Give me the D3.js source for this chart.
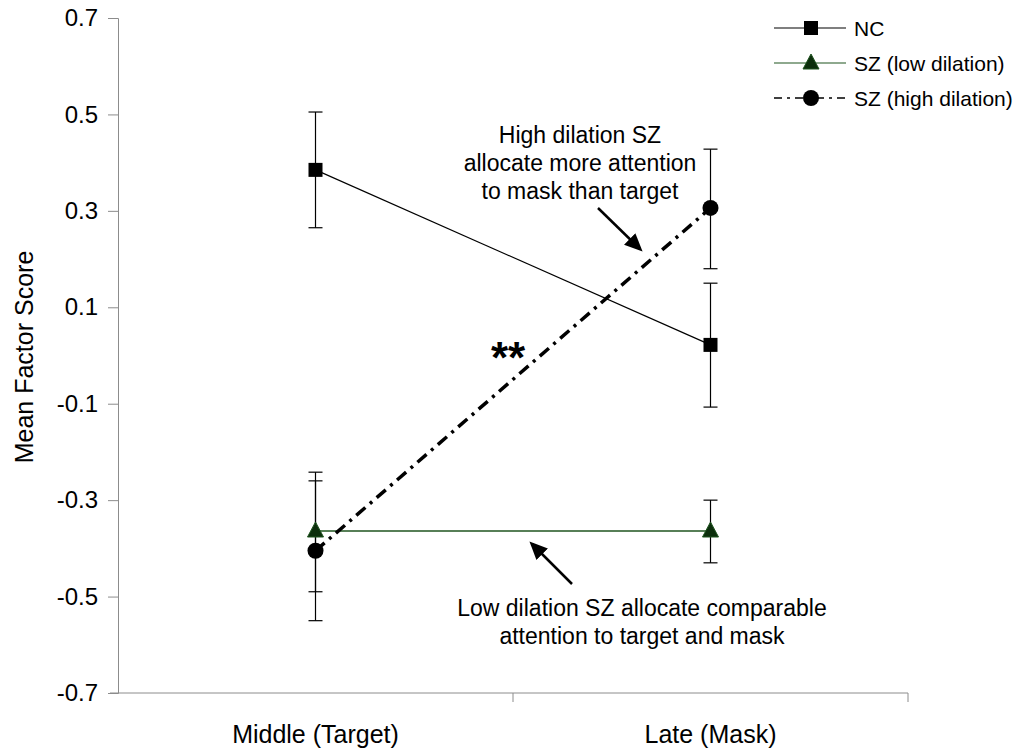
<!DOCTYPE html>
<html>
<head>
<meta charset="utf-8">
<script src="https://cdn.jsdelivr.net/npm/d3@7"></script>
<style>
  body { margin: 0; background: #fff; }
  text { font-family: "Liberation Sans", Arial, sans-serif; }
</style>
</head>
<body>
<svg id="chart" width="1023" height="753"></svg>
<script>
// data
var phases = ["Middle (Target)", "Late (Mask)"];
var yTicks = [0.7, 0.5, 0.3, 0.1, -0.1, -0.3, -0.5, -0.7];

var ncMean = [0.385, 0.022];
var ncHi   = [0.505, 0.150];
var ncLo   = [0.265, -0.107];

var lowMean = [-0.364, -0.364];
var lowHi   = [-0.242, -0.300];
var lowLo   = [-0.490, -0.430];

var highMean = [-0.405, 0.306];
var highHi   = [-0.260, 0.428];
var highLo   = [-0.550, 0.180];

var svg = d3.select("#chart");

// scales
var y = d3.scaleLinear().domain([-0.7, 0.7]).range([693, 18]);
var x = d3.scaleBand().domain(phases).range([118, 908]);
function cx(p){ return x(p) + x.bandwidth() / 2; }

var axisColor = "#8c8c8c";

// y axis (plain hyphen for minus, like the original)
var yAxis = d3.axisLeft(y).tickValues(yTicks).tickSize(10).tickPadding(10)
    .tickFormat(function(d){ return d3.format(".1f")(d).replace("\u2212", "-"); });
var gy = svg.append("g").attr("transform", "translate(118,0)").call(yAxis);
gy.select(".domain").attr("stroke", axisColor);
gy.selectAll(".tick line").attr("stroke", axisColor);
gy.selectAll(".tick text").attr("font-size", 24).attr("fill", "#000")
    .attr("font-family", "Liberation Sans, Arial, sans-serif");

// x axis
var xAxis = d3.axisBottom(x).tickSize(0).tickFormat("");
var gx = svg.append("g").attr("transform", "translate(0,693)").call(xAxis);
gx.select(".domain").remove();
gx.append("line").attr("x1", 110).attr("x2", 908).attr("y1", 0).attr("y2", 0)
    .attr("stroke", axisColor);
// boundary ticks between categories
gx.selectAll(".bt").data(phases).enter().append("line")
    .attr("x1", function(d){ return x(d) + x.bandwidth(); })
    .attr("x2", function(d){ return x(d) + x.bandwidth(); })
    .attr("y1", 0).attr("y2", 9).attr("stroke", axisColor);
svg.selectAll(".xlab").data(phases).enter().append("text")
    .attr("x", function(d){ return cx(d); })
    .attr("y", 743).attr("text-anchor", "middle").attr("font-size", 25)
    .text(function(d){ return d; });

// y title
svg.append("text").attr("transform", "translate(33,357) rotate(-90)")
    .attr("text-anchor", "middle").attr("font-size", 25).text("Mean Factor Score");

// series
var series = [
  {name: "NC", mean: ncMean, hi: ncHi, lo: ncLo, color: "#000", width: 1.2, dash: null, shape: "square"},
  {name: "SZ (low dilation)", mean: lowMean, hi: lowHi, lo: lowLo, color: "#1f541f", width: 1.5, dash: null, shape: "triangle"},
  {name: "SZ (high dilation)", mean: highMean, hi: highHi, lo: highLo, color: "#000", width: 3.5, dash: "12,6,3,6", shape: "circle"}
];

// error bars
series.forEach(function(s){
  phases.forEach(function(p, i){
    var g = svg.append("g").attr("stroke", "#000").attr("stroke-width", 1.2);
    g.append("line").attr("x1", cx(p)).attr("x2", cx(p)).attr("y1", y(s.hi[i])).attr("y2", y(s.lo[i]));
    g.append("line").attr("x1", cx(p) - 7).attr("x2", cx(p) + 7).attr("y1", y(s.hi[i])).attr("y2", y(s.hi[i]));
    g.append("line").attr("x1", cx(p) - 7).attr("x2", cx(p) + 7).attr("y1", y(s.lo[i])).attr("y2", y(s.lo[i]));
  });
});

var line = d3.line().x(function(d){ return cx(d.p); }).y(function(d){ return y(d.v); });

function marker(g, shape, px, py){
  if (shape == "square") {
    g.append("rect").attr("x", px - 7).attr("y", py - 7).attr("width", 14).attr("height", 14).attr("fill", "#000");
  } else if (shape == "triangle") {
    g.append("path").attr("d", "M" + px + "," + (py - 9) + "L" + (px + 8) + "," + (py + 6) + "L" + (px - 8) + "," + (py + 6) + "Z")
      .attr("fill", "#0c2e0c").attr("stroke", "#1f541f").attr("stroke-width", 1);
  } else {
    g.append("circle").attr("cx", px).attr("cy", py).attr("r", 8).attr("fill", "#000");
  }
}

series.forEach(function(s){
  var pts = phases.map(function(p, i){ return {p: p, v: s.mean[i]}; });
  svg.append("path").datum(pts).attr("d", line).attr("fill", "none")
    .attr("stroke", s.color).attr("stroke-width", s.width)
    .attr("stroke-dasharray", s.dash);
});
series.forEach(function(s){
  var g = svg.append("g");
  phases.forEach(function(p, i){ marker(g, s.shape, cx(p), y(s.mean[i])); });
});

// legend
var legend = svg.append("g");
series.forEach(function(s, i){
  var ly = 28 + i * 35;
  legend.append("line").attr("x1", 774).attr("x2", 846).attr("y1", ly).attr("y2", ly)
    .attr("stroke", s.color).attr("stroke-width", i == 2 ? 1.5 : 1.2)
    .attr("stroke-dasharray", i == 2 ? "8,5,3,5" : null);
  marker(legend, s.shape, 811, ly);
  legend.append("text").attr("x", 854).attr("y", ly + 7.5).attr("font-size", 21).text(s.name);
});

// annotations
var defs = svg.append("defs");
defs.append("marker").attr("id", "ah").attr("viewBox", "0 0 10 10").attr("refX", 8).attr("refY", 5)
  .attr("markerUnits", "userSpaceOnUse").attr("markerWidth", 18).attr("markerHeight", 18).attr("orient", "auto")
  .append("path").attr("d", "M0,0.5L10,5L0,9.5Z").attr("fill", "#000");

var note1 = ["High dilation SZ", "allocate more attention", "to mask than target"];
svg.selectAll(".n1").data(note1).enter().append("text")
  .attr("x", 580).attr("y", function(d, i){ return 143 + i * 28; })
  .attr("text-anchor", "middle").attr("font-size", 23).text(function(d){ return d; });
svg.append("line").attr("x1", 598).attr("y1", 208).attr("x2", 640).attr("y2", 249)
  .attr("stroke", "#000").attr("stroke-width", 2.5).attr("marker-end", "url(#ah)");

var note2 = ["Low dilation SZ allocate comparable", "attention to target and mask"];
svg.selectAll(".n2").data(note2).enter().append("text")
  .attr("x", 642).attr("y", function(d, i){ return 616 + i * 28; })
  .attr("text-anchor", "middle").attr("font-size", 23).text(function(d){ return d; });
svg.append("line").attr("x1", 572).attr("y1", 584).attr("x2", 532).attr("y2", 544)
  .attr("stroke", "#000").attr("stroke-width", 2.5).attr("marker-end", "url(#ah)");

svg.append("text").attr("x", 508).attr("y", 373).attr("text-anchor", "middle")
  .attr("font-size", 44).attr("font-weight", "bold").text("**");
</script>
</body>
</html>
